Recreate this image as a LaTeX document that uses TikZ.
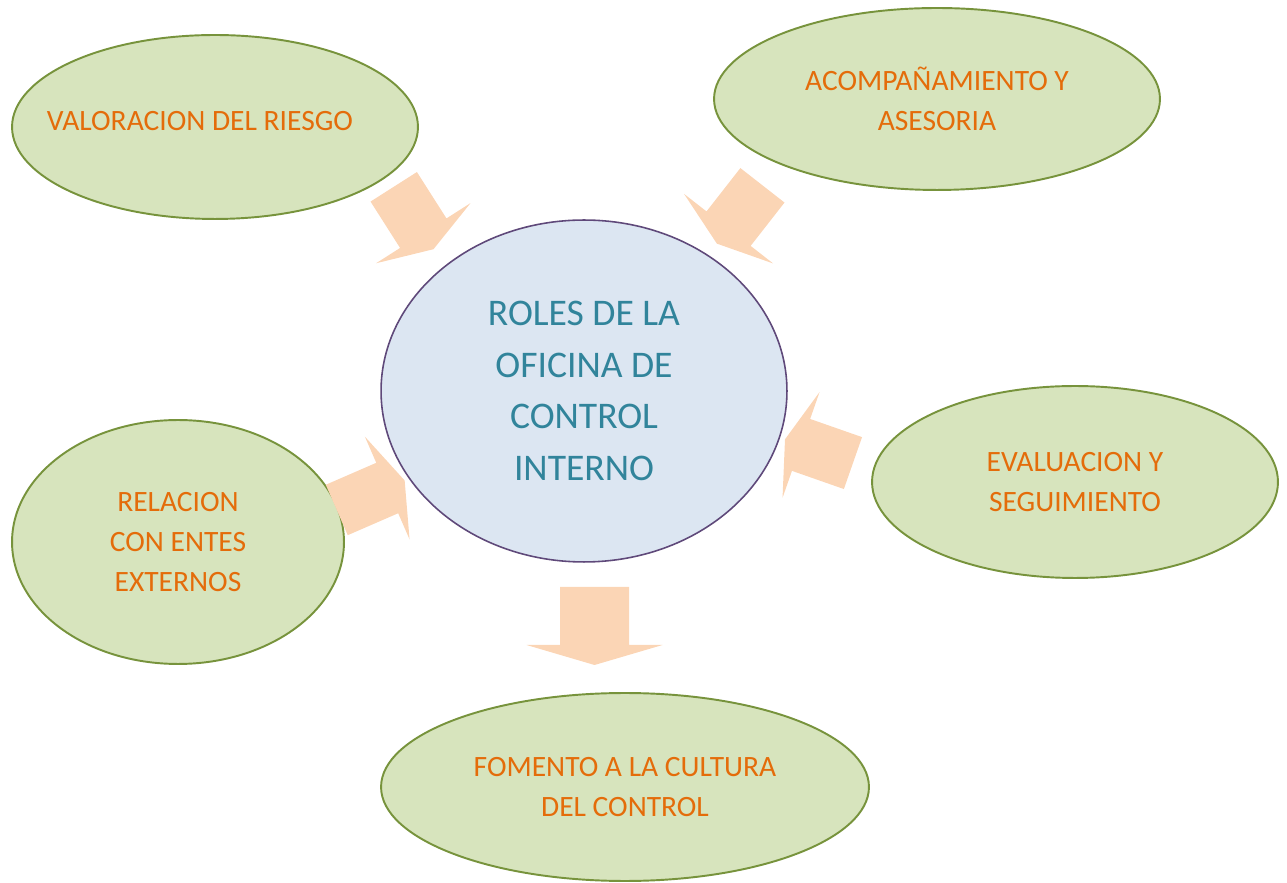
\documentclass[tikz,border=0pt]{standalone}
\usepackage{fontspec}
\setmainfont{Carlito}
\usetikzlibrary{shapes.geometric}
\definecolor{rolegreen}{HTML}{D7E4BD}
\definecolor{roleborder}{HTML}{77933C}
\definecolor{corefill}{HTML}{DCE6F2}
\definecolor{coreborder}{HTML}{5F497A}
\definecolor{arrowfill}{HTML}{FBD5B5}
\definecolor{roletext}{HTML}{E46C0A}
\definecolor{coretext}{HTML}{31849B}
\tikzset{
  pics/blockarrow/.style n args={4}{code={
    \fill[arrowfill] (-#1/2,-#2/2) -- (#1/2,-#2/2) -- (#1/2,-#3/2) -- (#1/2+#4,0)
      -- (#1/2,#3/2) -- (#1/2,#2/2) -- (-#1/2,#2/2) -- cycle;
  }}
}
\begin{document}
\begin{tikzpicture}[x=0.02cm,y=0.02cm,
    rolelabel/.style={text=roletext,align=center,font=\fontsize{16.8}{22.5}\selectfont},
    role/.style={ellipse,draw=roleborder,fill=rolegreen,line width=1.1pt,inner sep=0pt,rolelabel},
    core/.style={ellipse,draw=coreborder,fill=corefill,line width=0.9pt,inner sep=0pt,
      text=coretext,align=center,font=\fontsize{21.4}{29.5}\selectfont}]
        \useasboundingbox (0,0) rectangle (1287,882);

        \draw (584,491) node (core) [core,minimum width=8.12cm,minimum height=6.84cm]
            {ROLES DE LA\\OFICINA DE\\CONTROL\\INTERNO};
        \draw (215,755) node (riesgo) [role,minimum width=8.12cm,minimum height=3.68cm] {};
        \draw (riesgo.center) ++(-15,6) node (riesgolabel) [rolelabel] {VALORACION DEL RIESGO};
        \draw (937,783) node (asesoria) [role,minimum width=8.92cm,minimum height=3.64cm]
            {ACOMPAÑAMIENTO Y\\ASESORIA};
        \draw (1075,400) node (evaluacion) [role,minimum width=8.12cm,minimum height=3.84cm]
            {EVALUACION Y\\SEGUIMIENTO};
        \draw (178,340) node (entes) [role,minimum width=6.64cm,minimum height=4.88cm]
            {RELACION\\CON ENTES\\EXTERNOS};
        \draw (625,95) node (cultura) [role,minimum width=9.76cm,minimum height=3.76cm]
            {FOMENTO A LA CULTURA\\DEL CONTROL};

        % block arrows towards and from the core
        \pic [rotate=-57.5] at (408.5,672) {blockarrow={55}{55}{112}{19}};
        \pic [rotate=-128] at (745.5,675) {blockarrow={55}{56}{113}{19}};
        \pic [rotate=160.7] at (827,428) {blockarrow={55}{55}{112}{17}};
        \pic [rotate=23.5] at (362,383) {blockarrow={55}{55}{112}{19}};
        \pic [rotate=-90] at (594.5,266) {blockarrow={58}{69}{136}{20}};
\end{tikzpicture}
\end{document}
